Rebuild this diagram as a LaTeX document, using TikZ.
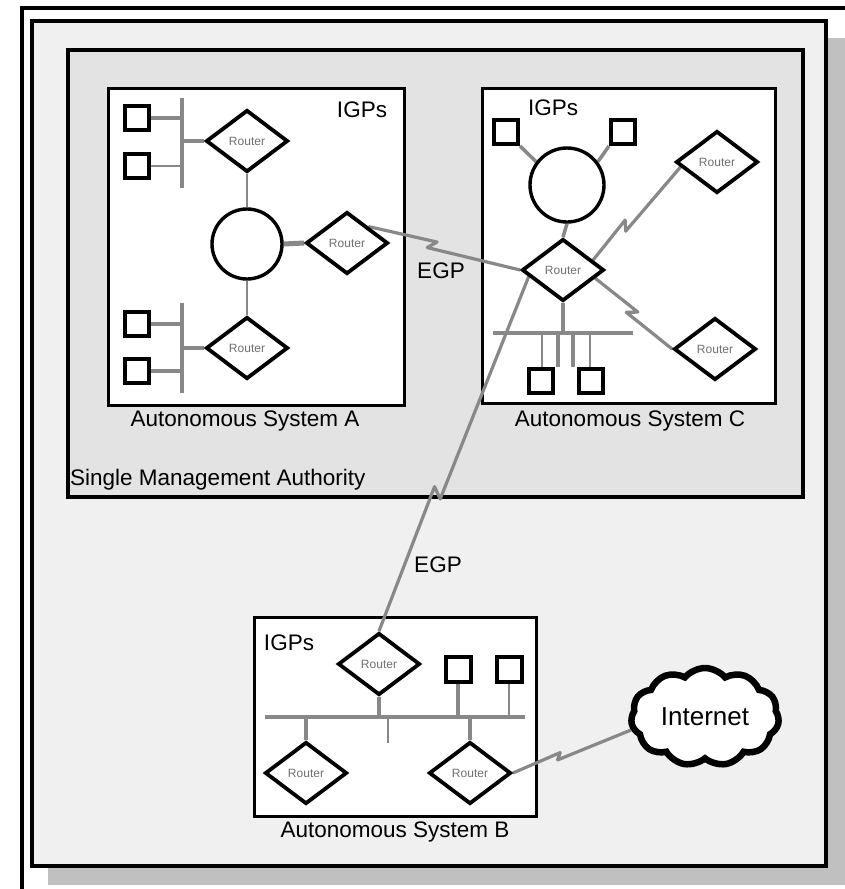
\documentclass[tikz,border=0pt]{standalone}
\usepackage{fontspec}
\setmainfont{Liberation Sans}
\usetikzlibrary{shapes.geometric,shapes.symbols,calc}

\definecolor{panelfill}{HTML}{F0F0F0}
\definecolor{domainfill}{HTML}{E3E3E3}
\definecolor{shadowfill}{HTML}{C0C0C0}
\definecolor{wire}{HTML}{888888}
\definecolor{routertext}{HTML}{707070}

\pgfdeclarelayer{bg}
\pgfdeclarelayer{wires}
\pgfsetlayers{bg,wires,main}

% serial link with a lightning jog: from, to, t+e, t-e, offset
\newcommand\boltlink[5]{%
  \draw[link] (#1) -- ($(#1)!#3!(#2)!#5!90:(#2)$)
                   -- ($(#1)!#4!(#2)!#5!-90:(#2)$) -- (#2);}

\begin{document}
\begin{tikzpicture}[x=1pt,y=-1pt,
  frame/.style={draw=black,line width=4pt},
  asbox/.style={draw=black,line width=3pt,fill=white},
  host/.style={rectangle,draw=black,line width=4pt,fill=white,
               minimum size=24pt,inner sep=0pt},
  router/.style={diamond,draw=black,line width=3.8pt,fill=white,
                 minimum width=82pt,minimum height=62pt,inner sep=0pt,
                 font=\fontsize{12}{14}\selectfont,text=routertext},
  ring/.style={circle,draw=black,line width=3.4pt,fill=white,
               minimum size=70pt,inner sep=0pt},
  lan/.style={draw=wire,line width=4.5pt},
  tap/.style={draw=wire,line width=2.5pt},
  link/.style={draw=wire,line width=3.2pt,line join=round},
  lbl/.style={font=\fontsize{22.5}{26}\selectfont,inner sep=2pt}]

\useasboundingbox (0,0) rectangle (845,889);
\clip (0,0) rectangle (845,889);

% ---------- frames and panels ----------
\begin{pgfonlayer}{bg}
  \fill[white] (0,0) rectangle (845,889);
  \draw[frame] (21.5,8) rectangle (900,950);
  \fill[shadowfill] (48,38) rectangle (845,885);
  \draw[frame,fill=panelfill] (32,21) rectangle (826,866);
  \draw[frame,fill=domainfill] (68,50) rectangle (803,497);
  \draw[asbox] (108,88) rectangle (404,405);
  \draw[asbox] (482,88) rectangle (775,403);
  \draw[asbox] (254,617) rectangle (536,816);
\end{pgfonlayer}

% ---------- Autonomous System A ----------
\node[host] (sA1) at (137,118) {};
\node[host] (sA2) at (137,166) {};
\node[host] (sA3) at (137,324) {};
\node[host] (sA4) at (137,371) {};
\node[router] (rA1) at (247,141) {Router};
\node[ring]   (cA)  at (247,244) {};
\node[router] (rA2) at (347,243) {Router};
\node[router] (rA3) at (247,348) {Router};
\node[lbl] (igpA) at (362,110) {IGPs};
\node[lbl] (labA) at (245,421) {Autonomous System A};

\coordinate (barA1t) at (182,98);
\coordinate (barA1b) at (182,188);
\coordinate (barA2t) at (182,303);
\coordinate (barA2b) at (182,393);

% ---------- Autonomous System C ----------
\node[host] (sC1) at (506,132) {};
\node[host] (sC2) at (623,132) {};
\node[ring,minimum size=74pt] (cC) at (567,185) {};
\node[router] (rC)  at (563,270) {Router};
\node[router] (rC1) at (717,162) {Router};
\node[router] (rC2) at (715,349) {Router};
\node[host] (sC3) at (541,381) {};
\node[host] (sC4) at (591,381) {};
\node[lbl] (igpC) at (553,108) {IGPs};
\node[lbl] (labC) at (630,421) {Autonomous System C};

\coordinate (busCl) at (493,333);
\coordinate (busCr) at (633,333);

% ---------- Autonomous System B ----------
\node[router] (rB1) at (379,664) {Router};
\node[router] (rB2) at (306,773) {Router};
\node[router] (rB3) at (470,773) {Router};
\node[host,minimum size=25pt] (sB1) at (458,669) {};
\node[host,minimum size=25pt] (sB2) at (509,669) {};
\node[lbl] (igpB) at (289,643) {IGPs};
\node[lbl] (labB) at (395,832) {Autonomous System B};

\coordinate (busBl) at (265,717);
\coordinate (busBr) at (525,717);

% ---------- Internet and domain labels ----------
\node[cloud,cloud puffs=11,cloud puff arc=100,aspect=1.5,draw=black,
      line width=6.5pt,fill=white,minimum width=148pt,minimum height=98pt,
      inner sep=0pt,font=\fontsize{26}{30}\selectfont] (inet) at (705,717) {Internet};
\node[lbl,anchor=west] (labM) at (68,480) {Single Management Authority};
\node[lbl] (egp1) at (441,271) {EGP};
\node[lbl] (egp2) at (438,565) {EGP};

% ---------- wiring ----------
\begin{pgfonlayer}{wires}
  % AS A: two host segments, ring and stubs
  \draw[lan] (barA1t) -- (barA1b);
  \draw[lan] (barA2t) -- (barA2b);
  \draw[lan] (sA1.east) -- (sA1.east -| barA1t);
  \draw[tap] (sA2.east) -- (sA2.east -| barA1t);
  \draw[lan] (sA3.east) -- (sA3.east -| barA2t);
  \draw[lan] (sA4.east) -- (sA4.east -| barA2t);
  \draw[lan] (rA1.west) -- (rA1.west -| barA1t);
  \draw[lan] (rA3.west) -- (rA3.west -| barA2t);
  \draw[tap] (rA1.south) -- (cA.north);
  \draw[tap] (cA.south) -- (rA3.north);
  \draw[lan,line width=5pt] (cA.east) -- (rA2.west);

  % AS C: ring, router and host bus
  \draw[lan,line width=3.5pt] (sC1.south east) -- (cC.143);
  \draw[lan,line width=3.5pt] (sC2.south west) -- (cC.37);
  \draw[lan,line width=3.5pt] (cC.south) -- (rC.north);
  \draw[lan] (rC.south) -- (rC.south |- busCl);
  \draw[lan] (busCl) -- (busCr);
  \coordinate (dC1) at (542,333);
  \coordinate (dC2) at (558,333);
  \coordinate (dC3) at (573,333);
  \coordinate (dC4) at (590,333);
  \draw[tap] (dC1) -- (dC1 |- sC3.north);
  \draw[lan,line width=4pt] (dC2) -- (dC2 |- sC3.north);
  \draw[lan,line width=4pt] (dC3) -- (dC3 |- sC4.north);
  \draw[tap] (dC4) -- (dC4 |- sC4.north);

  % AS B: bus with routers and hosts
  \draw[lan] (busBl) -- (busBr);
  \draw[lan] (rB1.south) -- (rB1.south |- busBl);
  \coordinate (stubB) at (388,717);
  \draw[tap] (stubB) -- ++(0,26);
  \draw[lan,line width=4pt] (sB1.south) -- (sB1.south |- busBl);
  \draw[tap] (sB2.south) -- (sB2.south |- busBl);
  \draw[lan,line width=4pt] (rB2.north) -- (rB2.north |- busBl);
  \draw[lan,line width=4pt] (rB3.north) -- (rB3.north |- busBl);

  % serial links
  \coordinate (pA2) at (rA2.north east);
  \coordinate (pC1) at ($(rC.east)!0.3!(rC.north)$);
  \coordinate (qC1) at ($(rC1.west)!0.15!(rC1.south)$);
  \coordinate (pC2) at ($(rC.east)!0.25!(rC.south)$);
  \coordinate (pC3) at ($(rC.west)!0.2!(rC.south)$);
  \coordinate (pI)  at (inet.190);
  \boltlink{pA2}{rC.west}{0.445}{0.395}{4pt}
  \boltlink{pC1}{qC1}{0.40}{0.34}{4pt}
  \boltlink{pC2}{rC2.west}{0.52}{0.44}{4pt}
  \boltlink{pC3}{rB1.north}{0.622}{0.598}{5pt}
  \boltlink{rB3.east}{pI}{0.41}{0.37}{3pt}
\end{pgfonlayer}
\end{tikzpicture}
\end{document}
